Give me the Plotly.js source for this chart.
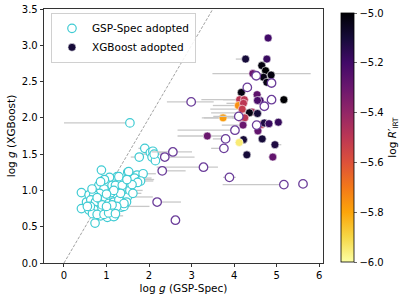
<!DOCTYPE html>
<html>
<head>
<meta charset="utf-8">
<script src="https://cdn.plot.ly/plotly-3.0.1.min.js"></script>
<style>html,body{margin:0;padding:0;background:#fff}#chart{width:416px;height:303px}</style>
</head>
<body>
<div id="chart"></div>
<script>
// GSP-Spec adopted (cyan, open)
const cyanX = [1.55,0.88,0.41,0.41,0.73,1.90,1.77,2.03,2.09,2.07,2.15,2.12,1.50,1.25,1.07,1.72,1.77,1.86,1.66,1.80,1.73,1.49,1.47,1.35,1.19,1.02,0.86,0.59,0.53,0.59,0.74,0.82,0.98,1.13,1.33,1.41,1.17,1.52,1.37,1.45,1.25,1.11,0.94,0.84,0.70,0.63,0.74,0.86,0.98,1.05,1.17,1.29,1.41,1.24,1.09,0.95,0.82,0.70,0.67,0.78,0.94,1.05,1.29,1.21,1.37,1.33,1.17,1.13,1.21,0.62,0.90,1.00,0.78,1.55,1.60,0.95,0.55,1.00,0.86,1.62,1.48,0.66];
const cyanY = [1.93,1.28,0.97,0.75,0.55,1.58,1.46,1.52,1.54,1.46,1.41,1.50,1.25,1.19,1.18,1.21,1.15,1.23,1.17,1.13,1.11,0.91,0.84,0.77,0.65,0.63,0.65,0.73,0.84,0.94,1.00,1.07,1.10,1.07,1.10,0.78,0.64,1.26,1.00,1.05,0.94,0.97,1.02,0.96,0.94,0.87,0.84,0.87,0.89,0.82,0.84,0.87,0.82,0.78,0.75,0.73,0.73,0.74,0.68,0.67,0.67,0.69,1.19,1.07,1.07,0.96,1.00,0.80,0.68,0.78,0.80,0.95,0.90,1.00,1.08,1.15,0.78,0.78,1.12,0.96,1.15,1.02];
const cyanErrMinus = [1.55,0.08,0.05,0.05,0.05,0.15,0.2,0.1,0.05,0.05,0.05,0.3,0.1,0.1,0.05,0.1,0.1,0.1,0.1,0.1,0.1,0.1,0.1,0.1,0.1,0.05,0.05,0.05,0.05,0.05,0.05,0.05,0.1,0.1,0.1,0.1,0.1,0.1,0.1,0.1,0.1,0.1,0.1,0.1,0.05,0.05,0.05,0.1,0.1,0.1,0.1,0.1,0.1,0.1,0.1,0.1,0.1,0.05,0.05,0.05,0.1,0.1,0.1,0.1,0.1,0.1,0.1,0.1,0.1,0.05,0.1,0.1,0.1,0.1,0.1,0.1,0.05,0.1,0.1,0.1,0.1,0.05];
const cyanErrPlus = [0.05,0.08,0.05,0.1,0.05,0.05,0.1,0.3,0.1,0.1,0.1,0.2,0.1,0.1,0.1,0.1,0.35,0.3,0.4,0.3,0.1,0.6,0.1,0.1,0.2,0.1,0.1,0.1,0.1,0.1,0.1,0.1,0.1,0.1,0.1,0.6,0.1,0.15,0.2,0.1,0.1,0.1,0.1,0.1,0.1,0.1,0.1,0.1,0.1,0.1,0.1,0.1,0.1,0.1,0.1,0.1,0.1,0.1,0.1,0.1,0.1,0.1,0.1,0.1,0.1,0.25,0.1,0.1,0.1,0.1,0.1,0.1,0.1,0.3,0.1,0.1,0.1,0.1,0.1,0.2,0.1,0.1];

// XGBoost adopted (filled, coloured by log R'IRT)
const fillX = [4.27,4.80,4.77,4.65,4.74,4.87,4.69,4.77,4.44,4.17,4.54,4.13,4.24,4.61,4.55,5.17,4.10,4.22,4.19,4.42,4.36,4.55,4.14,4.25,3.74,4.65,4.71,4.82,5.04,4.21,4.56,3.37,4.22,4.66,4.12,4.96,4.30,4.91];
const fillY = [2.81,3.10,2.81,2.72,2.65,2.59,2.56,2.49,2.61,2.35,2.32,2.25,2.25,2.24,2.24,2.25,2.17,2.20,2.12,2.08,2.07,2.06,2.00,2.00,2.00,1.91,1.93,1.92,1.94,1.90,1.82,1.75,1.70,1.71,1.66,1.63,1.49,1.46];
const fillLogR = [-5.10,-5.20,-5.18,-5.02,-5.00,-5.02,-5.03,-5.03,-5.30,-5.02,-5.27,-5.50,-5.50,-5.20,-5.22,-5.00,-5.75,-5.50,-5.52,-5.45,-5.03,-5.10,-5.50,-5.50,-5.78,-5.50,-5.12,-5.18,-5.17,-5.30,-5.28,-5.30,-5.10,-5.10,-5.95,-5.12,-5.10,-5.28];
const fillErrMinus = [0.23,0.05,0.05,0.05,0.05,0.05,0.05,0.05,0.95,0.1,0.1,0.9,0.5,0.05,0.05,0.08,0.6,0.4,0.75,0.3,0.9,0.1,0.9,0.3,0.45,0.1,0.05,0.05,0.05,0.5,0.1,0.7,0.1,0.1,0.1,0.1,0.1,0.1];
const fillErrPlus = [0.05,0.05,0.05,0.05,0.05,0.05,0.05,0.05,1.36,0.1,0.1,0.1,0.1,0.05,0.05,0.08,0.1,0.1,0.1,0.1,0.1,0.1,0.1,0.1,0.1,0.1,0.05,0.05,0.05,0.1,0.1,0.4,0.1,0.1,0.1,0.15,0.1,0.1];

// other GSP-Spec stars (purple, open)
const openX = [2.56,2.37,2.31,3.28,2.19,2.62,3.89,5.17,5.62,2.99,3.76,3.80,4.02,4.11,4.31,4.52,4.88,4.88,4.71,4.53];
const openY = [1.53,1.46,1.27,1.32,0.84,0.59,1.18,1.08,1.09,2.22,1.58,1.71,1.83,2.02,2.42,2.58,2.48,2.25,2.16,1.90];
const openErrMinus = [0.5,0.1,0.1,1.1,0.1,0.05,0.15,1.44,0.05,0.57,0.3,0.3,1.35,0.6,0.1,0.1,0.1,0.1,0.1,0.1];
const openErrPlus = [0.45,0.7,0.55,0.34,0.56,0.05,0.15,0.05,0.05,0.53,0.05,0.1,0.05,0.05,0.1,0.1,0.1,0.1,0.1,0.1];

const oneToOne = [0, 3.6];
const xTicks = [0,1,2,3,4,5,6];
const yTicks = [0,0.5,1,1.5,2,2.5,3,3.5];
const cbTicks = [-6,-5.8,-5.6,-5.4,-5.2,-5.0];
const yErr = 0.05;

const inferno = ['#000004','#160b39','#420a68','#6a176e','#932667','#bc3754','#dd513a','#f37819','#fca50a','#f6d746','#fcffa4'];
const infernoR = inferno.slice().reverse().map((c,i)=>[i/10,c]);

const errGrey = '#c8c8c8';
function ex(m,p){return {type:'data',symmetric:false,array:p,arrayminus:m,color:errGrey,thickness:1.3,width:0};}
function ey(){return {type:'constant',value:yErr,color:errGrey,thickness:1.1,width:0};}

const traces = [
  {x:oneToOne,y:oneToOne,mode:'lines',line:{color:'#8a8a8a',dash:'3px,1.6px',width:0.8},showlegend:false,hoverinfo:'skip'},
  {x:cyanX,y:cyanY,mode:'markers',name:'GSP-Spec adopted',legendrank:1,
   error_x:ex(cyanErrMinus,cyanErrPlus),error_y:ey(),
   marker:{symbol:'circle',size:8.5,color:'#ffffff',line:{width:1.2,color:'#3fcbd3'}}},
  {x:fillX,y:fillY,mode:'markers',name:'XGBoost adopted',legendrank:2,
   error_x:ex(fillErrMinus,fillErrPlus),error_y:ey(),
   marker:{symbol:'circle',size:8,color:fillLogR,colorscale:infernoR,cmin:-6,cmax:-5,
     line:{width:0.6,color:'#ffffff'},showscale:true,
     colorbar:{x:1.0645,xanchor:'left',xpad:0,ypad:0,y:0.494,yanchor:'middle',len:0.98,lenmode:'fraction',
       thickness:13,outlinewidth:0.8,outlinecolor:'#000',ticks:'outside',ticklen:3.5,tickwidth:0.8,
       tickvals:cbTicks,tickformat:'.1f',tickfont:{size:10,color:'#000'},
       title:{text:'log <i>R</i>′<sub>IRT</sub>',side:'right',font:{size:10.5,color:'#000'}}}}},
  {x:openX,y:openY,mode:'markers',showlegend:false,
   error_x:ex(openErrMinus,openErrPlus),error_y:ey(),
   marker:{symbol:'circle',size:8.5,color:'#ffffff',line:{width:1.3,color:'#6b3d9a'}}}
];

const axisCommon = {showline:true,linecolor:'#000',linewidth:0.8,mirror:true,ticks:'outside',ticklen:3.5,tickwidth:0.8,tickcolor:'#000',
  showgrid:false,zeroline:false,tickfont:{size:10,color:'#000'},automargin:false};

const layout = {
  width:416,height:303,margin:{l:44,r:93,t:9,b:40},
  paper_bgcolor:'#fff',plot_bgcolor:'#fff',
  font:{family:'DejaVu Sans, sans-serif',color:'#000'},
  xaxis:Object.assign({},axisCommon,{range:[-0.47,6.09],tickvals:xTicks,
    title:{text:'log <i>g</i> (GSP-Spec)',font:{size:10.5},standoff:4}}),
  yaxis:Object.assign({},axisCommon,{range:[0,3.5],tickvals:yTicks,tickformat:'.1f',
    title:{text:'log <i>g</i> (XGBoost)',font:{size:10.5},standoff:4}}),
  legend:{x:0.025,y:0.985,xanchor:'left',yanchor:'top',bgcolor:'rgba(255,255,255,0.85)',bordercolor:'#d0d0d0',borderwidth:1,
    font:{size:10.5,color:'#000'},itemwidth:30,tracegroupgap:0},
  showlegend:true
};

Plotly.newPlot('chart',traces,layout,{staticPlot:true,displayModeBar:false});
</script>
</body>
</html>
